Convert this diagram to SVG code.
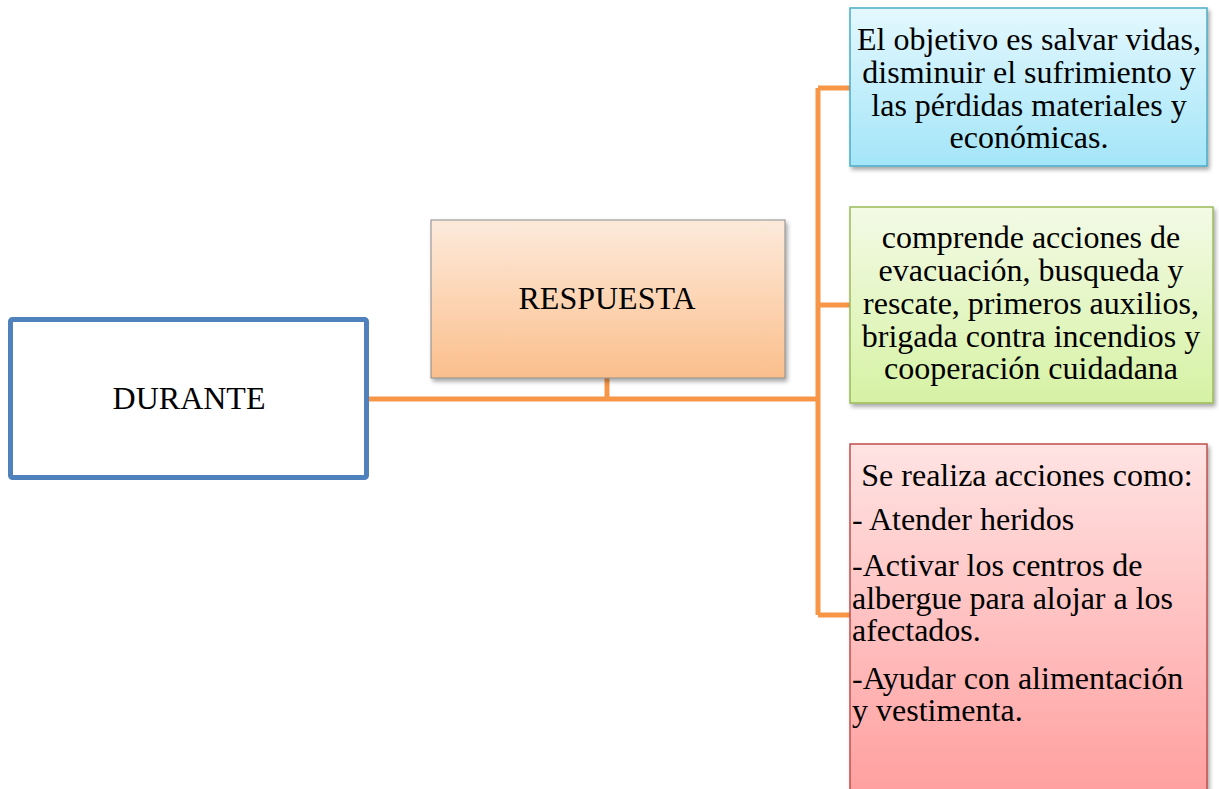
<svg xmlns="http://www.w3.org/2000/svg" width="1219" height="789" viewBox="0 0 1219 789">
<defs>
<linearGradient id="gBlue" x1="0" y1="0" x2="0" y2="1"><stop offset="0" stop-color="#E4F8FE"/><stop offset="1" stop-color="#A3E5F8"/></linearGradient>
<linearGradient id="gGreen" x1="0" y1="0" x2="0" y2="1"><stop offset="0" stop-color="#F3FAE6"/><stop offset="1" stop-color="#D6F2A4"/></linearGradient>
<linearGradient id="gPink" x1="0" y1="0" x2="0" y2="1"><stop offset="0" stop-color="#FFE3E3"/><stop offset="1" stop-color="#FF9F9F"/></linearGradient>
<linearGradient id="gOrange" x1="0" y1="0" x2="0" y2="1"><stop offset="0" stop-color="#FDEADB"/><stop offset="1" stop-color="#FBBF8C"/></linearGradient>
<filter id="sh" x="-5%" y="-5%" width="115%" height="115%"><feDropShadow dx="2" dy="3" stdDeviation="2" flood-color="#000" flood-opacity="0.35"/></filter>
</defs>
<style>
text{font-family:"Liberation Serif","Times New Roman",serif;font-size:32px;fill:#000}
.c{text-anchor:middle}
.conn{stroke:#F79646;stroke-width:5;fill:none}
</style>
<rect width="1219" height="789" fill="#fff"/>
<g id="connectors">
<path class="conn" d="M368 399 H818"/>
<path class="conn" d="M607 378 V399"/>
<path class="conn" d="M818 88 V615"/>
<path class="conn" d="M818 88 H851"/>
<path class="conn" d="M818 305 H851"/>
<path class="conn" d="M818 615 H851"/>
</g>
<g id="durante">
<rect x="10.5" y="319.5" width="356" height="158" rx="2" fill="#fff" stroke="#4F81BD" stroke-width="5"/>
<text class="c" x="189" y="409">DURANTE</text>
</g>
<g id="respuesta">
<rect x="431" y="220" width="354" height="158" fill="url(#gOrange)" stroke="#8A8A8A" stroke-width="1" filter="url(#sh)"/>
<text class="c" x="607" y="309">RESPUESTA</text>
</g>
<g id="objetivo">
<rect x="850" y="8" width="357" height="158" fill="url(#gBlue)" stroke="#4BACC6" stroke-width="1.5" filter="url(#sh)"/>
<text class="c" x="1029" y="50">El objetivo es salvar vidas,</text>
<text class="c" x="1029" y="83">disminuir el sufrimiento y</text>
<text class="c" x="1029" y="116">las pérdidas materiales y</text>
<text class="c" x="1029" y="148">económicas.</text>
</g>
<g id="acciones">
<rect x="850" y="207" width="363" height="196" fill="url(#gGreen)" stroke="#9BBB59" stroke-width="1.5" filter="url(#sh)"/>
<text class="c" x="1031" y="248">comprende acciones de</text>
<text class="c" x="1031" y="281">evacuación, busqueda y</text>
<text class="c" x="1031" y="314">rescate, primeros auxilios,</text>
<text class="c" x="1031" y="347">brigada contra incendios y</text>
<text class="c" x="1031" y="379">cooperación cuidadana</text>
</g>
<g id="realiza">
<rect x="850" y="444" width="357" height="350" fill="url(#gPink)" stroke="#C0504D" stroke-width="1.5" filter="url(#sh)"/>
<text class="c" x="1027" y="486">Se realiza acciones como:</text>
<text x="852" y="530">- Atender heridos</text>
<text x="852" y="576">-Activar los centros de</text>
<text x="852" y="609">albergue para alojar a los</text>
<text x="852" y="641">afectados.</text>
<text x="852" y="689">-Ayudar con alimentación</text>
<text x="852" y="721">y vestimenta.</text>
</g>
</svg>
